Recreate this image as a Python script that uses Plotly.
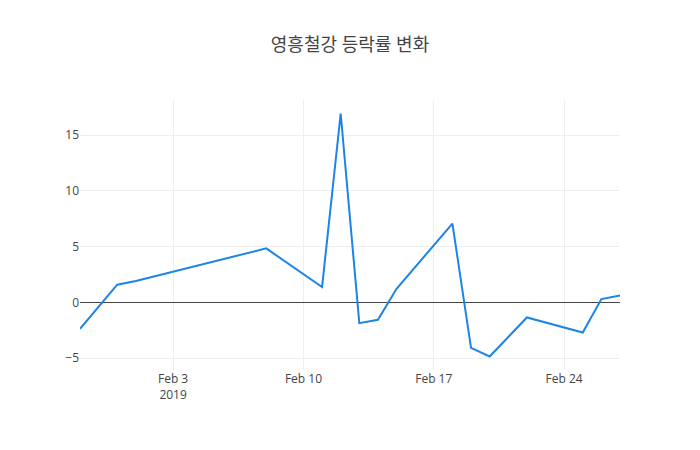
import plotly.graph_objects as go

# 영흥철강 daily change rate (%), Jan 29 - Feb 27 2019
dates = ['2019-01-29', '2019-01-31', '2019-02-01', '2019-02-08', '2019-02-11',
         '2019-02-12', '2019-02-13', '2019-02-14', '2019-02-15', '2019-02-18',
         '2019-02-19', '2019-02-20', '2019-02-22', '2019-02-25', '2019-02-26',
         '2019-02-27']
rates = [-2.37, 1.59, 1.92, 4.85, 1.38,
         16.95, -1.86, -1.56, 1.23, 7.07,
         -4.07, -4.85, -1.35, -2.70, 0.30,
         0.62]

fig = go.Figure()
fig.add_trace(go.Scatter(x=dates, y=rates, mode='lines',
                         line=dict(color='#1c84e6', width=2)))

# page has an 8px body margin, so margins are trimmed to land the plot where the original sits
fig.update_layout(
    template='none',
    width=700, height=450,
    title=dict(text='영흥철강 등락률 변화', x=342 / 700, xanchor='center',
               y=1 - 37 / 450, yanchor='middle',
               font=dict(size=18, color='#444', family='Open Sans, Noto Sans CJK KR')),
    font=dict(family='Open Sans, Noto Sans CJK KR', size=12, color='#444'),
    paper_bgcolor='white', plot_bgcolor='white',
    margin=dict(l=72, r=88, t=92, b=88),
    showlegend=False,
)
fig.update_xaxes(showgrid=True, gridcolor='#eee', zeroline=False,
                 showline=False, ticks='', dtick=7 * 86400000,
                 tick0='2019-02-03')
fig.update_yaxes(showgrid=True, gridcolor='#eee', zeroline=True,
                 zerolinecolor='#444', zerolinewidth=1, showline=False,
                 ticks='', dtick=5)

fig.write_html("out.html")
